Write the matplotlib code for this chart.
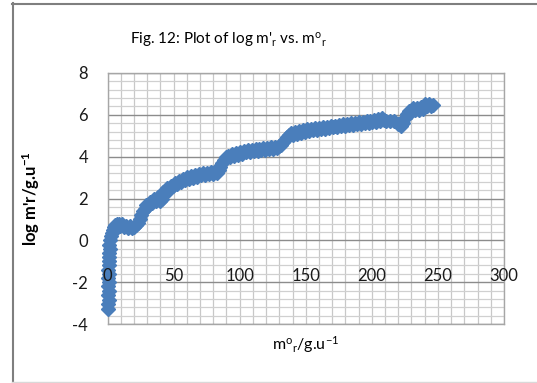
import matplotlib
matplotlib.use("Agg")
import matplotlib.pyplot as plt
from matplotlib.lines import Line2D
from matplotlib.ticker import MultipleLocator

plt.rcParams['font.family'] = ['Lato', 'DejaVu Sans']
plt.rcParams['mathtext.fontset'] = 'custom'
plt.rcParams['mathtext.rm'] = 'Lato'
plt.rcParams['mathtext.default'] = 'regular'
plt.rcParams['axes.unicode_minus'] = False

# m°r (g.u^-1) and log m'r values
m_o_r = [0.5, 0.3, 0.8, 0.4, 0.9, 0.5, 1.0, 0.6, 1.1, 0.7, 1.2, 0.8, 1.3, 1.0, 1.6, 1.4,
         2.0, 2.4, 3.2, 4.0, 5.0, 6.0, 7.2, 8.5, 9.8, 11, 12.5, 14, 15.5, 17, 18.5, 20,
         21.5, 23, 24.5, 25.5, 26.5, 28, 29.5, 31, 32.5, 34, 35.5, 37, 38.5, 40, 41, 42,
         43.5, 45, 46.5, 48, 49.5, 51, 52.5, 54, 55.5, 57, 58.5, 60, 61.5, 63, 64.5, 66,
         67.5, 69, 70.5, 72, 73.5, 75, 76.5, 78, 79.5, 81, 82.5, 84, 85, 86.5, 88, 89.5,
         91, 92.5, 94, 95.5, 97, 98.5, 100, 101.5, 103, 104.5, 106, 107.5, 109, 110.5,
         112, 113.5, 115, 116.5, 118, 119.5, 121, 122.5, 124, 125.5, 127, 128.5, 130,
         131.5, 133, 134.5, 136, 137.5, 139, 140.5, 142, 143.5, 145, 146.5, 148, 149.5,
         151, 152.5, 154, 155.5, 157, 158.5, 160, 161.5, 163, 164.5, 166, 167.5, 169,
         170.5, 172, 173.5, 175, 176.5, 178, 179.5, 181, 182.5, 184, 185.5, 187, 188.5,
         190, 191.5, 193, 194.5, 196, 197.5, 199, 200.5, 202, 203.5, 205, 206.5, 208,
         209.5, 211, 214, 217, 220, 222, 223.5, 225, 226.5, 228, 229.5, 231, 232.5, 234,
         235.5, 237, 238.5, 240, 241.5, 243, 244.5, 246]
log_m_r = [-3.3, -3.05, -2.85, -2.6, -2.4, -2.2, -2.0, -1.8, -1.6, -1.4, -1.2, -1.0, -0.8,
           -0.6, -0.4, -0.2, 0.0, 0.2, 0.35, 0.5, 0.62, 0.72, 0.8, 0.78, 0.7, 0.76, 0.62,
           0.7, 0.6, 0.68, 0.58, 0.66, 0.75, 0.85, 1.0, 1.2, 1.42, 1.5, 1.68, 1.62, 1.82,
           1.78, 1.98, 1.9, 2.05, 1.88, 2.0, 2.3, 2.25, 2.5, 2.42, 2.62, 2.58, 2.75, 2.7,
           2.85, 2.8, 2.95, 2.88, 3.02, 2.95, 3.08, 3.0, 3.12, 3.05, 3.18, 3.1, 3.2, 3.12,
           3.22, 3.15, 3.25, 3.18, 3.3, 3.22, 3.35, 3.5, 3.7, 3.85, 3.98, 4.05, 3.98, 4.12,
           4.05, 4.18, 4.1, 4.22, 4.15, 4.27, 4.2, 4.3, 4.22, 4.33, 4.25, 4.36, 4.28, 4.38,
           4.3, 4.4, 4.33, 4.42, 4.35, 4.44, 4.37, 4.47, 4.4, 4.5, 4.55, 4.68, 4.8, 4.95,
           5.05, 5.12, 5.05, 5.18, 5.1, 5.22, 5.15, 5.27, 5.2, 5.3, 5.23, 5.33, 5.26, 5.36,
           5.29, 5.38, 5.32, 5.41, 5.34, 5.43, 5.37, 5.46, 5.4, 5.49, 5.42, 5.51, 5.45,
           5.54, 5.47, 5.56, 5.5, 5.59, 5.52, 5.61, 5.55, 5.64, 5.57, 5.66, 5.6, 5.69, 5.62,
           5.72, 5.65, 5.75, 5.68, 5.79, 5.72, 5.84, 5.76, 5.7, 5.72, 5.7, 5.55, 5.45, 5.6,
           5.85, 6.05, 6.2, 6.12, 6.32, 6.25, 6.35, 6.22, 6.38, 6.3, 6.5, 6.4, 6.52, 6.42,
           6.45]

x_ticks = [0, 50, 100, 150, 200, 250, 300]

fig = plt.figure(figsize=(5.37, 3.83), dpi=100)
ax = fig.add_axes([0.2002, 0.154, 0.7383, 0.6554])

ax.plot(m_o_r, log_m_r, linestyle='none', marker='D', markersize=7.5,
        color='#4A7EBB', markeredgecolor='#4A7EBB', zorder=3, clip_on=False)

ax.set_xlim(0, 300)
ax.set_ylim(-4, 8)
ax.xaxis.set_major_locator(MultipleLocator(50))
ax.xaxis.set_minor_locator(MultipleLocator(10))
ax.yaxis.set_major_locator(MultipleLocator(2))
ax.yaxis.set_minor_locator(MultipleLocator(0.4))
ax.grid(which='major', axis='y', color='#8C8C8C', linewidth=1.0)
ax.grid(which='minor', axis='y', color='#D0D0D0', linewidth=0.9)
ax.grid(which='both', axis='x', color='#C8C8C8', linewidth=0.9)
ax.set_axisbelow(True)
for s in ax.spines.values():
    s.set_color('#A6A6A6')
    s.set_linewidth(1.0)

ax.tick_params(which='both', length=0)
ax.tick_params(axis='y', labelsize=12, pad=14, labelcolor='#1a1a1a')
ax.set_xticklabels([])

# x tick labels sit below the y=0 line, as in the original
for xt in x_ticks:
    ax.text(xt, -1.72, str(xt), ha='center', va='center', fontsize=12,
            color='#1a1a1a')

ax.set_ylabel("log m'r/g.u$^{-1}$", fontsize=12, fontweight='bold')
ax.yaxis.set_label_coords(-0.165, 0.5)
fig.text(0.57, 0.1, "m$^{o}$$_{r}$/g.u$^{-1}$", ha='center', va='center', fontsize=11.5)
fig.text(0.242, 0.895, "Fig. 12: Plot of log m$'_{r}$ vs. m$^{o}$$_{r}$", ha='left',
         va='center', fontsize=11)

# outer chart frame
fig.add_artist(Line2D([12.5 / 537, 12.5 / 537], [1 - 3 / 383, 1 - 382 / 383],
                      transform=fig.transFigure, color='#7F7F7F', linewidth=1.5))
fig.add_artist(Line2D([12 / 537, 1], [1 - 3.5 / 383, 1 - 3.5 / 383],
                      transform=fig.transFigure, color='#7F7F7F', linewidth=1.5))
fig.add_artist(Line2D([12 / 537, 1], [1 - 381.5 / 383, 1 - 381.5 / 383],
                      transform=fig.transFigure, color='#D9D9D9', linewidth=1.0))

fig.savefig('out.png', dpi=100)
